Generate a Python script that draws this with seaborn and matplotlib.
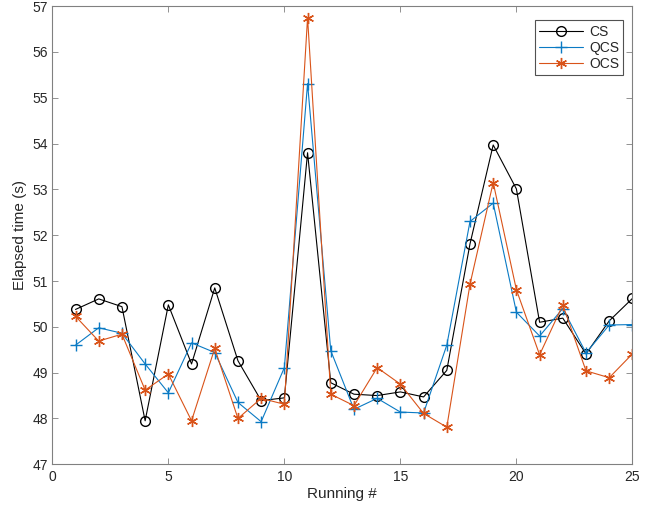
import numpy as np
import pandas as pd
import matplotlib
matplotlib.use("Agg")
import matplotlib.pyplot as plt
import seaborn as sns

runs = list(range(1, 26))
cs = [50.38, 50.61, 50.44, 47.95, 50.48, 49.19, 50.85, 49.26, 48.39, 48.45,
      53.80, 48.78, 48.53, 48.50, 48.58, 48.47, 49.05, 51.81, 53.97, 53.01,
      50.10, 50.19, 49.41, 50.13, 50.62]
qcs = [49.60, 49.98, 49.86, 49.19, 48.56, 49.65, 49.44, 48.35, 47.93, 49.11,
       55.31, 49.48, 48.20, 48.44, 48.14, 48.12, 49.60, 52.30, 52.70, 50.32,
       49.80, 50.40, 49.43, 50.04, 50.05]
ocs = [50.23, 49.69, 49.84, 48.62, 48.97, 47.95, 49.53, 48.00, 48.44, 48.31,
       56.75, 48.53, 48.28, 49.11, 48.75, 48.11, 47.81, 50.93, 53.15, 50.81,
       49.39, 50.48, 49.04, 48.89, 49.41]
series_names = ["CS", "QCS", "OCS"]
x_ticks = [0, 5, 10, 15, 20, 25]
y_ticks = list(range(47, 58))

series = {"CS": cs, "QCS": qcs, "OCS": ocs}

sns.set_style("white")
plt.rcParams["font.family"] = ["Liberation Sans", "DejaVu Sans"]

fig = plt.figure(figsize=(6.54, 5.11), dpi=100)
ax = fig.add_axes([0.080, 0.0914, 0.887, 0.8966])

colors = {"CS": "black", "QCS": "#0A7AC4", "OCS": "#D95319"}
markers = {"CS": "o", "QCS": "+", "OCS": (6, 2, 0)}
sizes = {"CS": 7, "QCS": 8, "OCS": 8}
for name in series_names:
    sns.lineplot(x=runs, y=series[name], color=colors[name], marker=markers[name],
                 markersize=sizes[name], markerfacecolor="none",
                 markeredgecolor=colors[name], markeredgewidth=1.0,
                 linewidth=0.8, label=name, ax=ax)

ax.set_xlim(0, 25)
ax.set_ylim(47, 57)
ax.set_xticks(x_ticks)
ax.set_yticks(y_ticks)
ax.set_xlabel("Running #", fontsize=11, color="#262626", labelpad=2)
ax.set_ylabel("Elapsed time (s)", fontsize=11, color="#262626", labelpad=4)
ax.tick_params(direction="in", length=4, width=0.6,
               labelsize=10, top=True, right=True, bottom=True, left=True)
ax.tick_params(axis="x", colors="#808080", labelcolor="#262626", pad=4)
ax.tick_params(axis="y", colors="#808080", labelcolor="#262626", pad=3)
for sp in ax.spines.values():
    sp.set_color("#808080")
    sp.set_linewidth(0.8)
ax.grid(False)

leg = ax.legend(loc="upper right", bbox_to_anchor=(0.984, 0.969), fontsize=10,
                frameon=True, fancybox=False, edgecolor="#262626",
                handlelength=3.2, handletextpad=0.4, borderpad=0.3,
                labelspacing=0.15, borderaxespad=0.0)
leg.get_frame().set_linewidth(0.8)
for h in leg.legend_handles:
    h.set_markerfacecolor("none")

fig.savefig("out.png", dpi=100, facecolor="white")
